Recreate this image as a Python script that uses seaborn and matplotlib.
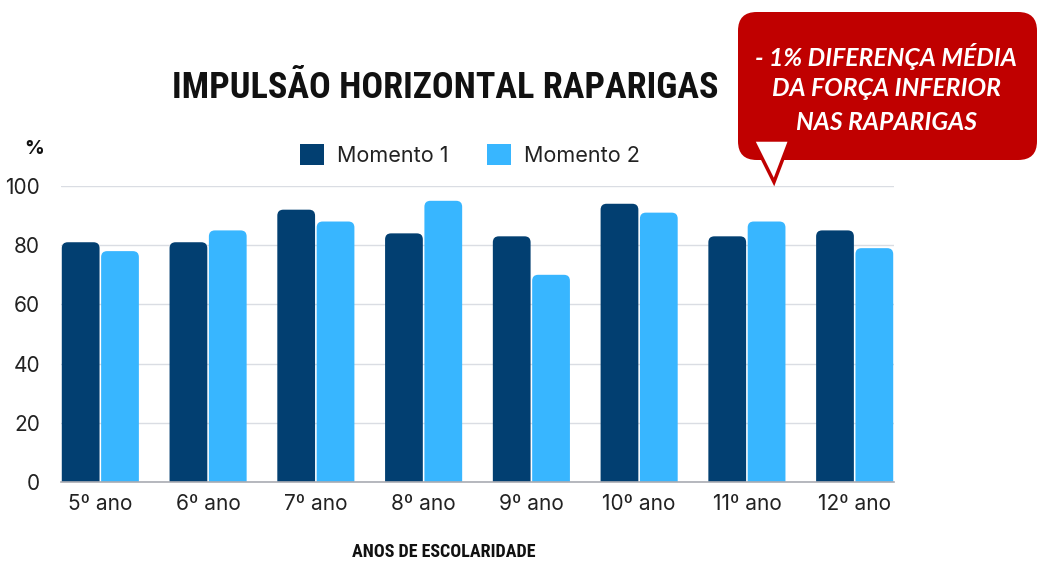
import matplotlib
matplotlib.use("Agg")
import matplotlib.pyplot as plt
from matplotlib import font_manager as fm
from matplotlib.patches import FancyBboxPatch, Polygon, Patch
import seaborn as sns
import pandas as pd

categories = ["5º ano", "6º ano", "7º ano", "8º ano", "9º ano", "10º ano", "11º ano", "12º ano"]
momento1 = [81, 81, 92, 84, 83, 94, 83, 85]
momento2 = [78, 85, 88, 95, 70, 91, 88, 79]
series_names = ["Momento 1", "Momento 2"]
y_ticks = [0, 20, 40, 60, 80, 100]

title_text = "IMPULSÃO HORIZONTAL RAPARIGAS"
xlabel_text = "ANOS DE ESCOLARIDADE"
ylabel_text = "%"
callout_lines = ["- 1% DIFERENÇA MÉDIA", "DA FORÇA INFERIOR", "NAS RAPARIGAS"]

DARK = "#023F71"
LIGHT = "#38B6FF"
RED = "#C00000"

sns.set_theme(style="white")
available = {f.name for f in fm.fontManager.ttflist}
body_font = "Inter" if "Inter" in available else "DejaVu Sans"
cond_font = None
for cand in ["Roboto Condensed", "Liberation Sans Narrow", "DejaVu Sans Condensed"]:
    if cand in available:
        cond_font = cand
        break
if cond_font is None:
    cond_font = "DejaVu Sans"
call_font = "Lato" if "Lato" in available else "DejaVu Sans"
plt.rcParams["font.family"] = [body_font, "DejaVu Sans"]

df = pd.DataFrame({
    "ano": categories * 2,
    "valor": momento1 + momento2,
    "serie": [series_names[0]] * len(categories) + [series_names[1]] * len(categories),
})

W, H = 1041, 563
fig = plt.figure(figsize=(W / 100, H / 100), dpi=100)
ax_left, ax_right = 61, 894
ax_top, ax_bot = 186, 482
ax = fig.add_axes([ax_left / W, 1 - ax_bot / H, (ax_right - ax_left) / W, (ax_bot - ax_top) / H])

bw = 0.73
sns.barplot(data=df, x="ano", y="valor", hue="serie", palette=[DARK, LIGHT],
            width=bw, gap=0.04, ax=ax, legend=False, saturation=1)

ax.set_xlim(-bw / 2, len(categories) - 1 + bw / 2)
ax.set_ylim(0, 100)

# rounded bar tops
px_per_x = (ax_right - ax_left) / (len(categories) - 1 + bw)
px_per_y = (ax_bot - ax_top) / 100
aspect = (1 / px_per_y) / (1 / px_per_x)
r = 6 / px_per_x
for p in list(ax.patches):
    x, y = p.get_x(), p.get_y()
    w, h = p.get_width(), p.get_height()
    fc = p.get_facecolor()
    p.remove()
    fb = FancyBboxPatch((x, y - 3), w, h + 3,
                        boxstyle=f"round,pad=0,rounding_size={r}",
                        mutation_aspect=aspect, facecolor=fc, edgecolor="none",
                        zorder=2)
    ax.add_patch(fb)

ax.set_yticks(y_ticks)
ax.yaxis.grid(True, color="#DADDE3", linewidth=1.0)
ax.set_axisbelow(True)
for s in ["top", "right", "left"]:
    ax.spines[s].set_visible(False)
ax.spines["bottom"].set_color("#A9ACB3")
ax.spines["bottom"].set_linewidth(1.2)
ax.spines["bottom"].set_zorder(3)
ax.tick_params(axis="both", length=0, labelsize=15, colors="#222222")
ax.tick_params(axis="y", pad=15)
ax.tick_params(axis="x", pad=9)
ax.set_xlabel("")
ax.set_ylabel("")

# titles
fig.text(445 / W, 1 - 88 / H, title_text, ha="center", va="center",
         fontsize=26, fontweight="bold", family=[cond_font, "DejaVu Sans"], color="#111111")
fig.text(444 / W, 1 - 552 / H, xlabel_text, ha="center", va="center",
         fontsize=13, fontweight="bold", family=[cond_font, "DejaVu Sans"], color="#111111")
fig.text(34 / W, 1 - 149 / H, ylabel_text, ha="center", va="center",
         fontsize=14, fontweight="bold", family=[body_font, "DejaVu Sans"], color="#111111")

# legend
handles = [Patch(facecolor=DARK, edgecolor="none"), Patch(facecolor=LIGHT, edgecolor="none")]
leg = fig.legend(handles, series_names, loc="center", bbox_to_anchor=(470 / W, 1 - 155 / H),
                 ncol=2, frameon=False, fontsize=15.5, handlelength=1.1, handleheight=1.1,
                 handletextpad=0.6, columnspacing=1.8)
for t in leg.get_texts():
    t.set_color("#222222")

# callout
bx0, bx1, by0, by1 = 738, 1037, 12, 160
box = FancyBboxPatch((bx0 / W, 1 - by1 / H), (bx1 - bx0) / W, (by1 - by0) / H,
                     boxstyle="round,pad=0,rounding_size=0.018", mutation_aspect=W / H,
                     transform=fig.transFigure, facecolor=RED, edgecolor="none", zorder=5)
fig.add_artist(box)
tri = Polygon([(753 / W, 1 - 140 / H), (790 / W, 1 - 140 / H), (774 / W, 1 - 182 / H)],
              closed=True, transform=fig.transFigure, facecolor="white", edgecolor=RED,
              linewidth=2.5, zorder=6)
fig.add_artist(tri)
for i, line in enumerate(callout_lines):
    fig.text(886 / W, 1 - (56 + 33 * i) / H, line, ha="center", va="center",
             fontsize=17.8, fontweight="bold", style="italic", color="white",
             family=[call_font, "DejaVu Sans"], zorder=7)

fig.savefig("out.png", dpi=100)
